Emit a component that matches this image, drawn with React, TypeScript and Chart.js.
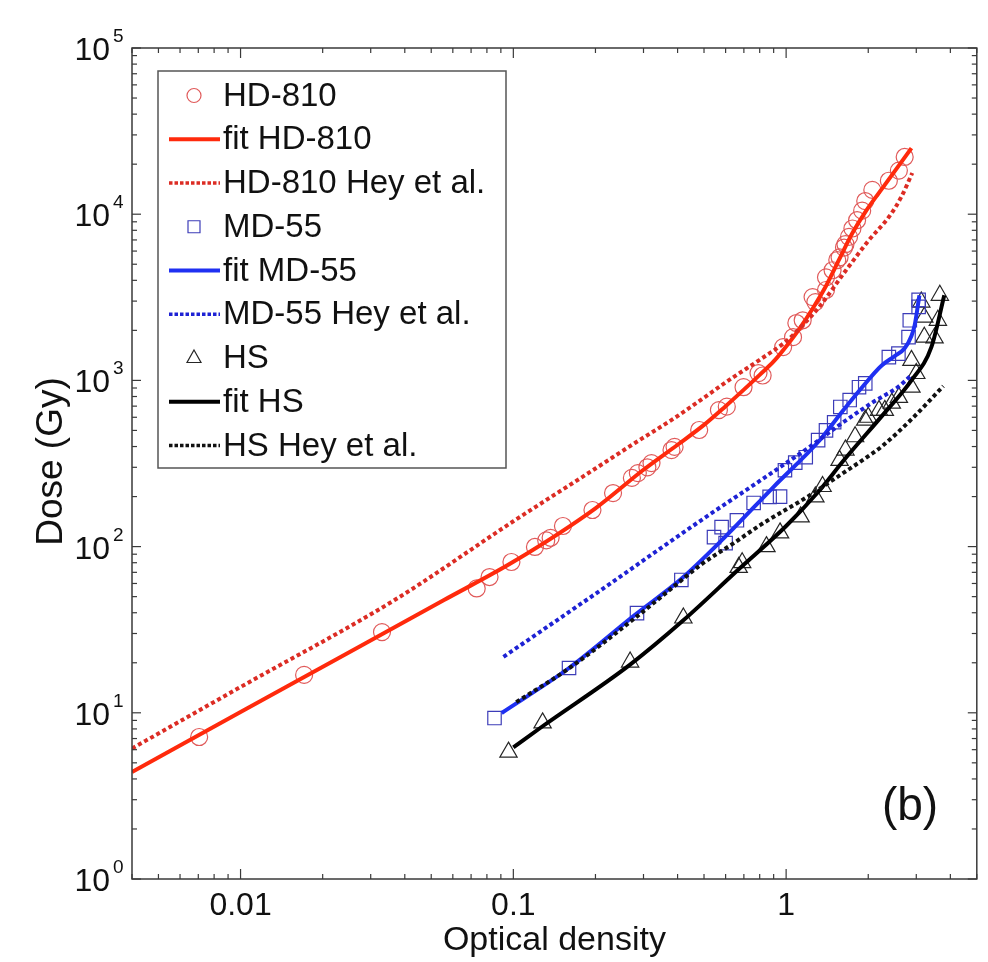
import React, { useEffect, useRef } from 'react';
import { Chart, registerables } from 'chart.js';

Chart.register(...registerables);

type P = [number, number];

// ---- data (optical density, dose in Gy) ----
const hd810Points: P[] = [
  [0.00705, 7.15], [0.0171, 16.9], [0.033, 30.6], [0.0734, 56], [0.0818, 65.6], [0.0984, 80.8],
  [0.12, 99.5], [0.132, 109], [0.137, 113], [0.152, 133], [0.195, 166], [0.232, 210], [0.272, 259],
  [0.286, 277], [0.31, 300], [0.321, 318], [0.38, 381], [0.39, 398], [0.48, 503], [0.567, 663],
  [0.606, 695], [0.698, 910], [0.792, 1107], [0.82, 1070], [0.975, 1586], [1.06, 1820], [1.09, 2214],
  [1.15, 2300], [1.25, 3170], [1.28, 2960], [1.4, 3500], [1.4, 4170], [1.48, 4600], [1.54, 5300],
  [1.57, 5500], [1.63, 6300], [1.65, 6600], [1.7, 7300], [1.75, 8200], [1.82, 9200], [1.9, 10500],
  [1.95, 12000], [2.07, 14000], [2.38, 15900], [2.59, 18300], [2.72, 22100],
];
const hd810Fit: P[] = [
  [0.004, 4.4], [0.01, 10.1], [0.0557, 47.7], [0.1, 81], [0.2, 170], [0.3, 290], [0.4, 410],
  [0.5, 540], [0.6, 700], [0.7, 880], [0.8, 1080], [0.9, 1300], [1.0, 1600], [1.12, 2050],
  [1.25, 2700], [1.4, 3700], [1.57, 5400], [1.75, 7700], [1.95, 10300], [2.3, 15000], [2.88, 25000],
];
const hd810Hey: P[] = [
  [0.004, 6.1], [0.01, 14.3], [0.0367, 47.7], [0.1, 142], [0.2, 295], [0.279, 420], [0.39, 594],
  [0.643, 1050], [0.8, 1330], [1.0, 1720], [1.15, 2150], [1.33, 2800], [1.65, 4550], [2.0, 6900],
  [2.4, 9800], [2.65, 12800], [2.9, 17700],
];
const md55Points: P[] = [
  [0.0853, 9.3], [0.16, 18.6], [0.284, 39.8], [0.413, 63], [0.544, 114], [0.58, 131], [0.6, 105],
  [0.66, 144], [0.76, 183], [0.87, 199], [0.95, 200], [0.99, 288], [1.08, 320], [1.18, 345],
  [1.31, 437], [1.4, 500], [1.5, 560], [1.58, 692], [1.71, 762], [1.85, 910], [1.95, 960],
  [2.38, 1380], [2.58, 1450], [2.81, 1820], [2.84, 2300], [3.06, 2770], [3.06, 3050],
];
const md55Fit: P[] = [
  [0.0906, 9.97], [0.16, 18.6], [0.28, 39], [0.413, 64], [0.59, 112], [0.9, 229], [1.33, 438],
  [1.57, 620], [1.9, 910], [2.24, 1230], [2.5, 1400], [2.72, 1560], [2.88, 1850], [2.96, 2150],
  [3.08, 3250],
];
const md55Hey: P[] = [
  [0.092, 21.7], [0.2, 52], [0.5, 148], [0.805, 250], [1.25, 410], [1.57, 540], [2.07, 735],
  [2.59, 920], [2.85, 1060],
];
const hsPoints: P[] = [
  [0.096, 5.8], [0.128, 8.7], [0.268, 20.2], [0.42, 37.2], [0.67, 75], [0.69, 80], [0.847, 100],
  [0.95, 121], [1.13, 151], [1.28, 199], [1.36, 230], [1.57, 330], [1.65, 381], [1.79, 458],
  [1.95, 577], [2.0, 600], [2.19, 660], [2.3, 660], [2.44, 730], [2.59, 790], [2.88, 910],
  [3.0, 1100], [2.88, 1320], [3.21, 1820], [3.21, 2400], [3.13, 2960], [3.5, 1800], [3.6, 2300],
  [3.66, 3250],
];
const hsFit: P[] = [
  [0.1, 6.2], [0.128, 8.3], [0.268, 19.5], [0.42, 36], [0.67, 73], [1.0, 133], [1.3, 210],
  [1.65, 340], [2.3, 640], [2.88, 1000], [3.41, 1590], [3.8, 3250],
];
const hsHey: P[] = [
  [0.1025, 11.6], [0.16, 18.5], [0.284, 38], [0.39, 58], [0.488, 78], [0.643, 105], [0.805, 135],
  [1.2, 200], [1.5, 255], [1.95, 340], [2.24, 400], [2.9, 590], [3.77, 925],
];

const seriesLabels = [
  'HD-810', 'fit HD-810', 'HD-810 Hey et al.',
  'MD-55', 'fit MD-55', 'MD-55 Hey et al.',
  'HS', 'fit HS', 'HS Hey et al.',
];
const xTickValues = [0.01, 0.1, 1];
const xTickLabels = ['0.01', '0.1', '1'];
const yTickExponents = [0, 1, 2, 3, 4, 5];
const xMin = 0.004, xMax = 5, yMin = 1, yMax = 1e5;
const xTitle = 'Optical density';
const yTitle = 'Dose (Gy)';
const panelLabel = '(b)';

// ---- styles ----
const FONT = '"Liberation Sans", Arial, Helvetica, sans-serif';
const RED_MARK = '#e05a5a';
const RED_FIT = '#ff2a0c';
const RED_HEY = '#dc2c24';
const BLUE_MARK = '#3c3cb8';
const BLUE_FIT = '#1f30f2';
const BLUE_HEY = '#1e22d4';
const BLACK_MARK = '#262626';
const BLACK_FIT = '#000000';
const BLACK_HEY = '#111111';
const DOT: number[] = [4, 3];

const xy = (a: P[]) => a.map(([x, y]) => ({ x, y }));

type Kind = { type: 'marker' | 'fit' | 'hey'; color: string; shape?: string };
const legendKinds: Kind[] = [
  { type: 'marker', color: RED_MARK, shape: 'circle' },
  { type: 'fit', color: RED_FIT },
  { type: 'hey', color: RED_HEY },
  { type: 'marker', color: BLUE_MARK, shape: 'rect' },
  { type: 'fit', color: BLUE_FIT },
  { type: 'hey', color: BLUE_HEY },
  { type: 'marker', color: BLACK_MARK, shape: 'triangle' },
  { type: 'fit', color: BLACK_FIT },
  { type: 'hey', color: BLACK_HEY },
];

const markerDs = (label: string, data: P[], color: string, style: string, r: number) => ({
  label,
  data: xy(data),
  showLine: false,
  pointStyle: style,
  pointRadius: r,
  pointHoverRadius: r,
  pointBorderColor: color,
  pointBackgroundColor: 'rgba(0,0,0,0)',
  pointBorderWidth: 1.2,
  order: 3,
});
const lineDs = (label: string, data: P[], color: string, dashed: boolean) => ({
  label,
  data: xy(data),
  showLine: true,
  borderColor: color,
  backgroundColor: color,
  borderWidth: 4,
  borderDash: dashed ? DOT : [],
  borderCapStyle: 'butt',
  pointRadius: 0,
  cubicInterpolationMode: 'monotone',
  fill: false,
  order: dashed ? 1 : 2,
});

const decorPlugin = {
  id: 'decor',
  afterDraw(chart: any) {
    const { ctx, chartArea: a, scales } = chart;
    const xs = scales.x, ys = scales.y;
    ctx.save();
    // frame
    ctx.strokeStyle = '#3a3a3a';
    ctx.lineWidth = 1.5;
    ctx.strokeRect(a.left, a.top, a.right - a.left, a.bottom - a.top);
    const seg = (x1: number, y1: number, x2: number, y2: number) => {
      ctx.beginPath(); ctx.moveTo(x1, y1); ctx.lineTo(x2, y2); ctx.stroke();
    };
    ctx.lineWidth = 1.2;
    // x ticks (inside, bottom and top)
    for (let e = -3; e <= 0; e++) {
      for (let m = 1; m <= 9; m++) {
        const v = m * Math.pow(10, e);
        if (v < xMin * 0.999 || v > xMax * 1.001) continue;
        const px = xs.getPixelForValue(v);
        const len = m === 1 ? 10 : 5;
        seg(px, a.bottom, px, a.bottom - len);
        seg(px, a.top, px, a.top + len);
      }
    }
    // y ticks (inside, left and right)
    for (let e = 0; e <= 5; e++) {
      for (let m = 1; m <= 9; m++) {
        const v = m * Math.pow(10, e);
        if (v > yMax * 1.001) continue;
        const py = ys.getPixelForValue(v);
        const len = m === 1 ? 9 : 5;
        seg(a.left, py, a.left + len, py);
        seg(a.right, py, a.right - len, py);
      }
    }
    ctx.fillStyle = '#111';
    // y tick labels 10^n
    for (const e of yTickExponents) {
      const py = ys.getPixelForValue(Math.pow(10, e));
      ctx.font = `32px ${FONT}`;
      ctx.textAlign = 'right';
      ctx.textBaseline = 'alphabetic';
      ctx.fillText('10', 110, py + 12);
      ctx.font = `19px ${FONT}`;
      ctx.textAlign = 'left';
      ctx.fillText(String(e), 113, py - 6);
    }
    // x tick labels
    ctx.font = `32px ${FONT}`;
    ctx.textAlign = 'center';
    ctx.textBaseline = 'alphabetic';
    xTickValues.forEach((v, i) => {
      ctx.fillText(xTickLabels[i], xs.getPixelForValue(v), 915);
    });
    // axis titles
    ctx.font = `34px ${FONT}`;
    ctx.fillText(xTitle, (a.left + a.right) / 2, 950);
    ctx.save();
    ctx.translate(62, (a.top + a.bottom) / 2 - 2);
    ctx.rotate(-Math.PI / 2);
    ctx.font = `37px ${FONT}`;
    ctx.textAlign = 'center';
    ctx.fillText(yTitle, 0, 0);
    ctx.restore();
    // panel label
    ctx.font = `46px ${FONT}`;
    ctx.textAlign = 'center';
    ctx.fillText(panelLabel, 910, 820);

    // legend
    const bx = 158, by = 71, bw = 348, bh = 397;
    ctx.fillStyle = '#ffffff';
    ctx.fillRect(bx, by, bw, bh);
    ctx.strokeStyle = '#555';
    ctx.lineWidth = 1.5;
    ctx.strokeRect(bx, by, bw, bh);
    legendKinds.forEach((k, i) => {
      const y = 95.5 + i * 43.75;
      ctx.save();
      if (k.type === 'marker') {
        ctx.strokeStyle = k.color;
        ctx.lineWidth = 1.2;
        ctx.beginPath();
        if (k.shape === 'circle') ctx.arc(194, y, 7, 0, Math.PI * 2);
        else if (k.shape === 'rect') ctx.rect(188, y - 6, 12, 12);
        else {
          ctx.moveTo(194, y - 8);
          ctx.lineTo(201, y + 4.5);
          ctx.lineTo(187, y + 4.5);
          ctx.closePath();
        }
        ctx.stroke();
      } else {
        ctx.strokeStyle = k.color;
        ctx.lineWidth = k.type === 'fit' ? 4 : 3.5;
        ctx.setLineDash(k.type === 'hey' ? [3.5, 2] : []);
        ctx.beginPath();
        ctx.moveTo(169, y);
        ctx.lineTo(220, y);
        ctx.stroke();
      }
      ctx.restore();
      ctx.fillStyle = '#111';
      ctx.font = `33px ${FONT}`;
      ctx.textAlign = 'left';
      ctx.textBaseline = 'middle';
      ctx.fillText(seriesLabels[i], 223, y + 1);
    });
    ctx.restore();
  },
};

export default function App() {
  const ref = useRef<HTMLCanvasElement>(null);
  useEffect(() => {
    document.body.style.margin = '0';
    const canvas = ref.current;
    if (!canvas) return;
    const chart = new Chart(canvas, {
      type: 'scatter',
      data: {
        datasets: [
          markerDs(seriesLabels[0], hd810Points, RED_MARK, 'circle', 8.5),
          lineDs(seriesLabels[1], hd810Fit, RED_FIT, false),
          lineDs(seriesLabels[2], hd810Hey, RED_HEY, true),
          markerDs(seriesLabels[3], md55Points, BLUE_MARK, 'rect', 9.5),
          lineDs(seriesLabels[4], md55Fit, BLUE_FIT, false),
          lineDs(seriesLabels[5], md55Hey, BLUE_HEY, true),
          markerDs(seriesLabels[6], hsPoints, BLACK_MARK, 'triangle', 10),
          lineDs(seriesLabels[7], hsFit, BLACK_FIT, false),
          lineDs(seriesLabels[8], hsHey, BLACK_HEY, true),
        ] as any,
      },
      options: {
        responsive: false,
        animation: false,
        devicePixelRatio: 1,
        layout: { padding: { top: 48, right: 3, left: 0, bottom: 0 } },
        plugins: { legend: { display: false }, tooltip: { enabled: false } },
        scales: {
          x: {
            type: 'logarithmic',
            min: xMin,
            max: xMax,
            ticks: { display: false },
            grid: { display: false },
            border: { display: false },
            afterFit: (s: any) => { s.height = 83; },
          },
          y: {
            type: 'logarithmic',
            min: yMin,
            max: yMax,
            ticks: { display: false },
            grid: { display: false },
            border: { display: false },
            afterFit: (s: any) => { s.width = 132; },
          },
        },
      } as any,
      plugins: [decorPlugin],
    });
    return () => chart.destroy();
  }, []);
  return (
    <div style={{ position: 'relative', width: 988, height: 962, background: '#fff' }}>
      <canvas ref={ref} width={988} height={962} style={{ display: 'block', width: 988, height: 962 }} />
    </div>
  );
}
